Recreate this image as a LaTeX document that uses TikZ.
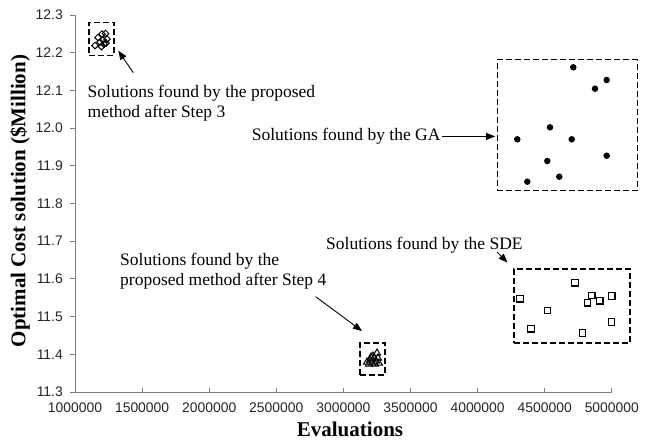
\documentclass[tikz,border=0pt]{standalone}
\usepackage{fontspec}
\setmainfont{Liberation Serif}
\newfontfamily\ticksans{Liberation Sans}
\usetikzlibrary{arrows.meta,shapes.geometric}

\begin{document}
\begin{tikzpicture}[x=1pt,y=-1pt,
  axisline/.style={draw=black!50, line width=0.9pt},
  ticklbl/.style={font=\ticksans\fontsize{13.9}{15}\selectfont, text=black!85, inner sep=0pt},
  axistitle/.style={font=\bfseries\fontsize{21}{23}\selectfont, inner sep=0pt},
  note/.style={font=\fontsize{17.5}{19.5}\selectfont, align=left, inner sep=0pt, anchor=base west},
  groupbox/.style={draw, dash pattern=on 6pt off 3pt, line width=1.4pt, inner sep=0pt},
  pointer/.style={-{Triangle[length=9pt,width=7pt]}, line width=0.9pt},
  gapt/.style={circle, fill=black, inner sep=0pt, minimum size=6.5pt},
  sdept/.style={rectangle, draw, line width=1.1pt, inner sep=0pt, minimum size=6.5pt},
  stepthree/.style={diamond, draw, line width=1pt, inner sep=0pt, minimum size=7pt},
  stepfour/.style={regular polygon, regular polygon sides=3, draw, line width=1pt, inner sep=0pt, minimum size=8pt},
]
\useasboundingbox (0,0) rectangle (650,440);

% axes
\draw[axisline] (75,15) -- (75,392) -- (612,392);
\foreach \lbl [count=\k from 0] in {11.3,11.4,11.5,11.6,11.7,11.8,11.9,12.0,12.1,12.2,12.3} {
  \coordinate (yt\k) at (75,{392-37.7*\k});
  \draw[axisline] (yt\k) -- ++(-5,0);
  \node[ticklbl, anchor=east] (ylab\k) at ([xshift=-12pt]yt\k) {\lbl};
}
\foreach \lbl [count=\k from 0] in {1000000,1500000,2000000,2500000,3000000,3500000,4000000,4500000,5000000} {
  \coordinate (xt\k) at ({75+67.1*\k},392);
  \draw[axisline] (xt\k) -- ++(0,-4);
  \node[ticklbl, anchor=base] (xlab\k) at ([yshift=-20pt]xt\k) {\lbl};
}
\node[axistitle, anchor=base] (xtitle) at (350,436) {Evaluations};
\node[axistitle, rotate=90] (ytitle) at (20,201) {Optimal Cost solution (\$Million)};

% solution groups
\node[groupbox, minimum width=25pt, minimum height=33pt] (box3) at (101.5,38.7) {};
\node[groupbox, minimum width=140pt, minimum height=131pt] (boxga) at (567.3,125) {};
\node[groupbox, minimum width=116pt, minimum height=74pt] (boxsde) at (572,305.9) {};
\node[groupbox, minimum width=25pt, minimum height=32pt] (box4) at (372.5,358.9) {};

\foreach \px/\py [count=\k] in {98/37.5,95/45.5,102/34,105.5/33.5,103/40,106/43,101.5/46.5,107/39,104/44,100/42}
  \node[stepthree] (sthree\k) at (\px,\py) {};
\foreach \px/\py [count=\k] in {573.3/67.3,606.7/80,595/88.7,550/127.3,517.3/139.3,571.7/139.3,606.7/155.7,547.3/161,559.3/176.7,527.3/181.7}
  \node[gapt] (ga\k) at (\px,\py) {};
\foreach \px/\py [count=\k] in {575/282.7,520/298.7,591.7/295.3,587.3/302.7,599.7/300.7,611.7/296,547.3/310.3,611.3/322,531/328.7,582.3/333}
  \node[sdept] (sde\k) at (\px,\py) {};
\foreach \px/\py [count=\k] in {367/362,370/360,372/363,374/358,376/361,377/353,373/356,369/364,375/364,379/363,378/358,371/357}
  \node[stepfour] (sfour\k) at (\px,\py) {};

% annotations (base anchor sits on the last line)
\node[note] (s3txt) at (87.5,117.4) {Solutions found by the proposed\\method after Step 3};
\node[note] (gatxt) at (251.7,140.7) {Solutions found by the GA};
\node[note] (sdetxt) at (326,249) {Solutions found by the SDE};
\node[note] (s4txt) at (120,285.3) {Solutions found by the\\proposed method after Step 4};

\coordinate (s3tail) at (133.3,72.7);
\coordinate (s3tip) at (118.3,50.7);
\coordinate (sdetail) at (497,252);
\coordinate (sdetip) at (507.5,262.5);
\coordinate (s4tail) at (315.7,296.7);
\coordinate (s4tip) at (362,331);

\draw[pointer] (s3tail) -- (s3tip);
\draw[pointer, shorten <=1.5pt, shorten >=1.5pt] (gatxt.east) -- (gatxt.east -| boxga.west);
\draw[pointer] (sdetail) -- (sdetip);
\draw[pointer] (s4tail) -- (s4tip);
\end{tikzpicture}
\end{document}
